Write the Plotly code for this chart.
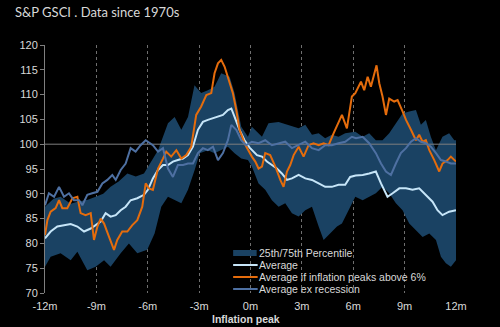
import plotly.graph_objects as go

# ---------------- data (months relative to inflation peak, index = 100 at peak) -------------
avg_x = [-12.0, -11.67, -11.28, -10.89, -10.50, -10.11, -9.72, -9.33, -9.04, -8.75, -8.46, -8.17,
         -7.87, -7.58, -7.29, -7.00, -6.61, -6.22, -5.99, -5.70, -5.40, -5.11, -4.82, -4.53, -4.24,
         -3.94, -3.65, -3.36, -3.07, -2.78, -2.49, -2.19, -1.90, -1.61, -1.32, -1.12, -0.93, -0.64,
         -0.35, -0.05, 0.38, 0.67, 0.96, 1.25, 1.54, 1.83, 2.13, 2.42, 2.81, 3.20, 3.59, 3.98, 4.36,
         4.75, 5.14, 5.53, 5.82, 6.14, 6.55, 6.93, 7.32, 7.62, 8.00, 8.30, 8.69, 9.08, 9.46, 9.85,
         10.24, 10.63, 10.92, 11.21, 11.60, 12.0]
avg_y = [81.0, 82.4, 83.4, 83.7, 83.9, 83.4, 82.4, 83.0, 83.7, 84.4, 86.1, 85.4,
         85.7, 86.7, 87.4, 88.7, 89.1, 89.8, 90.8, 93.1, 94.8, 95.8, 95.8, 96.5, 96.8,
         97.1, 97.8, 99.5, 102.9, 104.5, 104.9, 105.2, 105.5, 105.9, 106.9, 107.2, 105.5, 102.9,
         100.8, 99.3, 97.8, 97.5, 96.5, 95.8, 95.1, 94.1, 92.8, 93.1, 93.8, 93.1, 92.8, 92.1, 91.4,
         91.4, 91.8, 91.8, 93.4, 93.7, 93.8, 94.1, 94.5, 92.1, 89.4, 90.1, 91.1, 91.1, 90.8, 91.1,
         89.8, 88.4, 86.7, 85.7, 86.4, 86.7]

hi_x = [-12.0, -11.86, -11.67, -11.38, -11.18, -10.99, -10.70, -10.40, -10.11, -9.92, -9.63, -9.33,
        -9.14, -8.94, -8.75, -8.55, -8.26, -7.97, -7.78, -7.49, -7.19, -6.90, -6.61, -6.32, -6.12,
        -5.93, -5.70, -5.40, -5.11, -4.92, -4.63, -4.33, -4.04, -3.75, -3.46, -3.17, -2.88, -2.58,
        -2.29, -2.10, -1.90, -1.71, -1.51, -1.32, -1.03, -0.83, -0.64, -0.35, -0.05, 0.08, 0.28,
        0.47, 0.67, 0.86, 1.15, 1.45, 1.74, 1.93, 2.13, 2.32, 2.52, 2.81, 3.10, 3.39, 3.68, 3.98,
        4.27, 4.56, 4.85, 5.14, 5.34, 5.63, 5.92, 6.12, 6.45, 6.64, 6.84, 7.03, 7.23, 7.36, 7.52,
        7.71, 7.91, 8.10, 8.39, 8.59, 8.88, 9.08, 9.37, 9.66, 9.85, 10.05, 10.24, 10.44, 10.73,
        11.02, 11.21, 11.51, 11.70, 11.90, 12.0]
hi_y = [81.7, 84.7, 86.4, 87.1, 88.7, 87.1, 87.1, 89.1, 89.4, 86.1, 85.7, 86.1,
        80.7, 83.4, 85.0, 84.0, 81.3, 78.7, 80.7, 82.4, 82.4, 83.7, 84.7, 87.4, 92.1,
        91.1, 90.8, 95.1, 97.1, 98.5, 97.5, 98.8, 97.1, 97.8, 99.5, 105.9, 107.6, 109.9,
        110.3, 114.3, 116.3, 117.0, 115.6, 113.6, 110.3, 106.9, 102.9, 100.2, 98.2, 97.5, 96.5,
        95.1, 95.5, 98.2, 97.8, 95.5, 92.8, 91.4, 94.5, 95.8, 97.8, 99.5, 97.5, 99.8, 100.2, 99.8,
        100.2, 99.8, 102.2, 104.5, 105.9, 103.2, 109.6, 110.3, 112.6, 110.9, 113.6, 111.6, 113.9, 115.9, 112.3,
        109.6, 105.9, 109.2, 108.6, 108.9, 106.6, 104.9, 102.9, 100.8, 101.9, 100.5, 100.8, 98.8, 96.8,
        94.5, 96.1, 96.8, 97.5, 96.8, 96.5]

exr_x = [-12.0, -11.77, -11.47, -11.18, -10.89, -10.60, -10.31, -10.01, -9.82, -9.53, -9.24, -8.94,
         -8.65, -8.36, -8.07, -7.87, -7.58, -7.29, -7.00, -6.71, -6.42, -6.12, -5.99, -5.70, -5.40,
         -5.11, -4.82, -4.53, -4.24, -3.94, -3.65, -3.36, -3.07, -2.78, -2.49, -2.19, -1.90, -1.61,
         -1.32, -1.12, -0.83, -0.54, -0.25, 0.08, 0.47, 0.86, 1.25, 1.64, 2.03, 2.42, 2.81, 3.20,
         3.59, 3.98, 4.36, 4.75, 5.14, 5.53, 5.92, 6.16, 6.55, 6.93, 7.32, 7.62, 7.91, 8.20, 8.49,
         8.78, 9.08, 9.37, 9.66, 9.95, 10.24, 10.53, 10.83, 11.12, 11.41, 11.70, 12.0]
exr_y = [87.7, 90.1, 89.4, 91.4, 89.4, 90.1, 88.7, 88.7, 87.7, 89.8, 90.1, 90.4,
         92.1, 92.8, 93.8, 92.8, 94.8, 96.1, 99.2, 98.5, 99.8, 100.8, 100.5, 99.8, 98.5,
         99.2, 95.1, 93.4, 95.8, 95.8, 96.1, 96.1, 98.2, 99.2, 98.8, 99.5, 96.8, 98.2,
         100.8, 103.9, 102.9, 100.8, 99.8, 100.5, 100.2, 100.8, 99.8, 100.2, 100.5, 99.2, 99.8, 100.5,
         99.2, 98.8, 99.8, 99.8, 100.2, 100.5, 101.5, 101.2, 101.5, 100.2, 98.2, 96.1, 94.5, 93.8, 96.1,
         98.2, 99.2, 100.5, 101.2, 100.5, 100.2, 99.5, 98.2, 96.8, 96.5, 96.1, 96.1]

p75_x = [-12.0, -11.5, -11.09, -10.5, -10.11, -9.5, -9.04, -8.6, -8.17, -7.7, -7.19, -6.7, -6.22,
         -5.99, -5.4, -4.82, -4.43, -4.04, -3.65, -3.27, -2.88, -2.49, -2.10, -1.71, -1.22, -0.93,
         -0.54, -0.15, 0.08, 0.67, 1.05, 1.64, 2.22, 2.81, 3.20, 3.59, 3.98, 4.36, 4.75, 5.14, 5.53,
         6.12, 6.55, 6.93, 7.32, 7.71, 8.10, 8.49, 8.88, 9.27, 9.66, 9.95, 10.24, 10.53, 10.83, 11.21,
         11.60, 11.90, 12.0]
p75_y = [87.4, 89.0, 89.4, 88.0, 88.4, 88.8, 89.4, 90.0, 91.4, 92.5, 94.1, 93.5, 94.1,
         95.5, 98.8, 104.2, 105.5, 102.9, 105.5, 111.9, 110.3, 110.9, 111.6, 114.3, 113.6, 110.3,
         103.5, 101.5, 103.5, 101.5, 104.2, 104.5, 103.9, 103.2, 103.9, 101.9, 102.2, 101.2, 101.9, 101.5, 102.2,
         102.5, 101.5, 102.2, 100.8, 100.8, 102.2, 104.2, 106.2, 106.6, 106.9, 103.9, 104.9, 101.5, 98.8, 101.5,
         102.2, 100.8, 100.8]

p25_x = [-12.0, -11.67, -11.09, -10.50, -10.11, -9.53, -9.04, -8.55, -8.17, -7.58, -7.10, -6.61, -6.03,
         -5.60, -5.21, -4.82, -4.43, -4.04, -3.65, -3.26, -2.97, -2.49, -2.10, -1.71, -1.32, -0.93,
         -0.54, -0.15, 0.08, 0.47, 0.86, 1.25, 1.64, 2.03, 2.42, 2.81, 3.20, 3.59, 3.98, 4.27, 4.66,
         5.05, 5.34, 5.73, 6.12, 6.55, 6.93, 7.32, 7.71, 8.10, 8.49, 8.88, 9.27, 9.66, 10.05, 10.44,
         10.83, 11.12, 11.41, 11.70, 12.0]
p25_y = [75.3, 77.3, 78.0, 76.6, 78.3, 74.6, 75.3, 76.6, 75.3, 78.0, 80.0, 78.0, 78.7,
         82.0, 87.4, 89.4, 88.7, 88.1, 90.8, 94.8, 98.2, 98.8, 98.2, 98.8, 99.5, 98.2,
         97.1, 96.8, 95.5, 92.1, 90.8, 88.7, 87.4, 88.1, 86.1, 85.4, 86.7, 87.4, 83.4, 80.7, 82.0,
         83.4, 84.0, 86.7, 89.4, 88.7, 89.4, 90.1, 91.4, 90.1, 88.1, 86.7, 84.0, 82.7, 81.3, 82.0,
         80.7, 77.3, 76.0, 75.3, 76.6]

BASE = 100
x_ticks = [-12, -9, -6, -3, 0, 3, 6, 9, 12]
x_labels = ["-12m", "-9m", "-6m", "-3m", "0m", "3m", "6m", "9m", "12m"]
y_ticks = [70, 75, 80, 85, 90, 95, 100, 105, 110, 115, 120]

names = ["25th/75th Percentile", "Average", "Average if inflation peaks above 6%", "Average ex recession"]

C_BAND = "#1a4263"
C_AVG = "#c6e5f8"
C_HI = "#e56c0c"
C_EXR = "#4e70a2"
C_TXT = "#d9d9d9"
C_AX = "#7f7f7f"

fig = go.Figure()
fig.add_trace(go.Scatter(x=p75_x + p25_x[::-1], y=p75_y + p25_y[::-1], fill="toself",
                         fillcolor=C_BAND, line=dict(width=0), mode="lines", name=names[0],
                         hoverinfo="skip"))
fig.add_trace(go.Scatter(x=[x_ticks[0], x_ticks[-1]], y=[BASE, BASE], mode="lines",
                         line=dict(color=C_AX, width=1), showlegend=False, hoverinfo="skip"))
fig.add_trace(go.Scatter(x=avg_x, y=avg_y, mode="lines", line=dict(color=C_AVG, width=2), name=names[1]))
fig.add_trace(go.Scatter(x=hi_x, y=hi_y, mode="lines", line=dict(color=C_HI, width=2), name=names[2]))
fig.add_trace(go.Scatter(x=exr_x, y=exr_y, mode="lines", line=dict(color=C_EXR, width=2), name=names[3]))

# ---- manual legend (paper coordinates of the plot area) ----
W, H = 410.7, 248.0
def px(x):
    return (x - 45) / W
def py(y):
    return (293 - y) / H

rows = [253.0, 265.0, 277.0, 289.0]
fig.add_shape(type="rect", xref="paper", yref="paper", x0=px(233), x1=px(256.5),
              y0=py(256.0), y1=py(250.0), fillcolor=C_BAND, line=dict(width=0), layer="above")
for r, c in zip(rows[1:], [C_AVG, C_HI, C_EXR]):
    fig.add_shape(type="line", xref="paper", yref="paper", x0=px(233), x1=px(257.5),
                  y0=py(r), y1=py(r), line=dict(color=c, width=2), layer="above")
for r, n in zip(rows, names):
    fig.add_annotation(xref="paper", yref="paper", x=px(258), y=py(r), text=n, showarrow=False,
                       xanchor="left", yanchor="middle", borderpad=0,
                       font=dict(family="Liberation Sans, Arial", size=10.5, color=C_TXT))

# x-axis title placed just under the tick labels
fig.add_annotation(xref="paper", yref="paper", x=px(246), y=py(318.5), text="<b>Inflation peak</b>",
                   showarrow=False, xanchor="center", yanchor="middle", borderpad=0,
                   font=dict(family="Liberation Sans, Arial", size=10.5, color=C_TXT))

fig.update_layout(
    width=500, height=327,
    paper_bgcolor="#000000", plot_bgcolor="#000000",
    margin=dict(l=45, r=44.3, t=45, b=34),
    showlegend=False,
    title=dict(text="S&P GSCI . Data since 1970s", x=15 / 500, xanchor="left", xref="container",
               y=(327 - 12.5) / 327, yanchor="middle", yref="container",
               font=dict(family="Lato", size=13, color="#d8d8d8")),
    font=dict(family="Liberation Sans, Arial", size=11, color=C_TXT),
)
fig.update_xaxes(range=[-12, 12], tickvals=x_ticks, ticktext=x_labels, automargin=False,
                 showgrid=True, gridcolor="#6f6f6f", griddash="3px,3px", gridwidth=1,
                 zeroline=False, showline=False, ticks="outside", ticklen=3,
                 tickcolor="rgba(0,0,0,0)",
                 tickfont=dict(family="Liberation Sans, Arial", size=11, color=C_TXT))
fig.update_yaxes(range=[70, 120], tickvals=y_ticks, showgrid=False, zeroline=False, automargin=False,
                 showline=True, linecolor=C_AX, linewidth=1, ticks="outside", ticklen=4,
                 tickcolor=C_AX, tickfont=dict(family="Liberation Sans, Arial", size=11, color=C_TXT))

fig.write_html("out.html")
